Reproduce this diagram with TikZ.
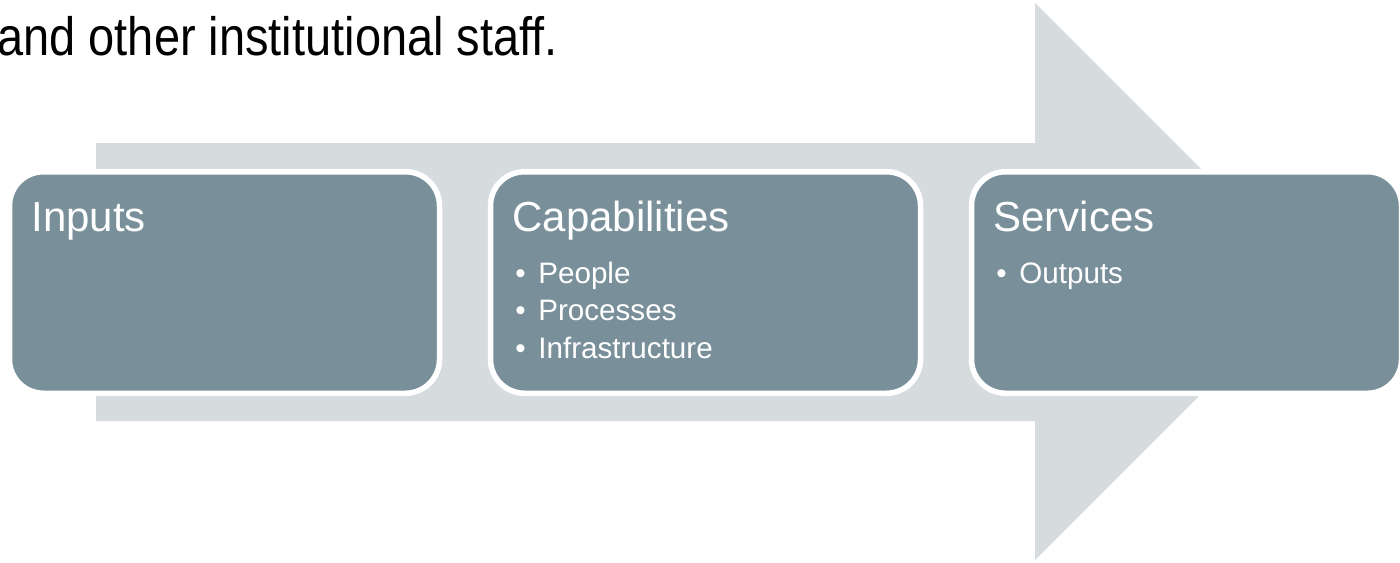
\documentclass[tikz,border=0pt]{standalone}
\usepackage{fontspec}
\setmainfont{Liberation Sans}
\usetikzlibrary{positioning}
\definecolor{boxgrey}{RGB}{121,144,155}
\definecolor{arrowgrey}{RGB}{214,219,222}
\tikzset{
  stage/.style={rectangle, fill=boxgrey, draw=white, line width=2.75pt,
    rounded corners=17pt, minimum width=215pt, minimum height=110.75pt,
    inner sep=0pt, outer sep=0pt},
  title/.style={text=white, inner sep=0pt, anchor=base west,
    font=\fontsize{21pt}{25pt}\selectfont},
  item/.style={text=white, inner sep=0pt, anchor=base west,
    font=\fontsize{14.8pt}{18pt}\selectfont}
}
\begin{document}
\begin{tikzpicture}[x=0.5pt,y=-0.5pt]
  \useasboundingbox (0,0) rectangle (1400,562);
  \node [inner sep=0pt, anchor=base west, xscale=0.87, font=\fontsize{27pt}{32pt}\selectfont] (txt) at (-3,55) {and other institutional staff.};

  \fill [arrowgrey] (96,143) -- (1035,143) -- (1035,3) -- (1313.5,281.5)
    -- (1035,560) -- (1035,421) -- (96,421) -- cycle;

  \node [stage] (inp) at (224.5,282.5) {};
  \node [stage, right=25.5pt of inp] (cap) {};
  \node [stage, right=25.5pt of cap] (srv) {};

  \node [title] (inptitle) at ([shift={(21.5,60)}]inp.north west) {Inputs};
  \node [title] (captitle) at ([shift={(21.5,60)}]cap.north west) {Capabilities};
  \node [title] (srvtitle) at ([shift={(21.5,60)}]srv.north west) {Services};

  \foreach \t [count=\i from 0] in {People,Processes,Infrastructure}
    \node [item] (cap\i) at ([shift={(24.5,111.25+37.5*\i)}]cap.north west) {\makebox[11.5pt][l]{\textbullet}\t};
  \node [item] (srv0) at ([shift={(24.5,111.25)}]srv.north west) {\makebox[11.5pt][l]{\textbullet}Outputs};
\end{tikzpicture}
\end{document}
